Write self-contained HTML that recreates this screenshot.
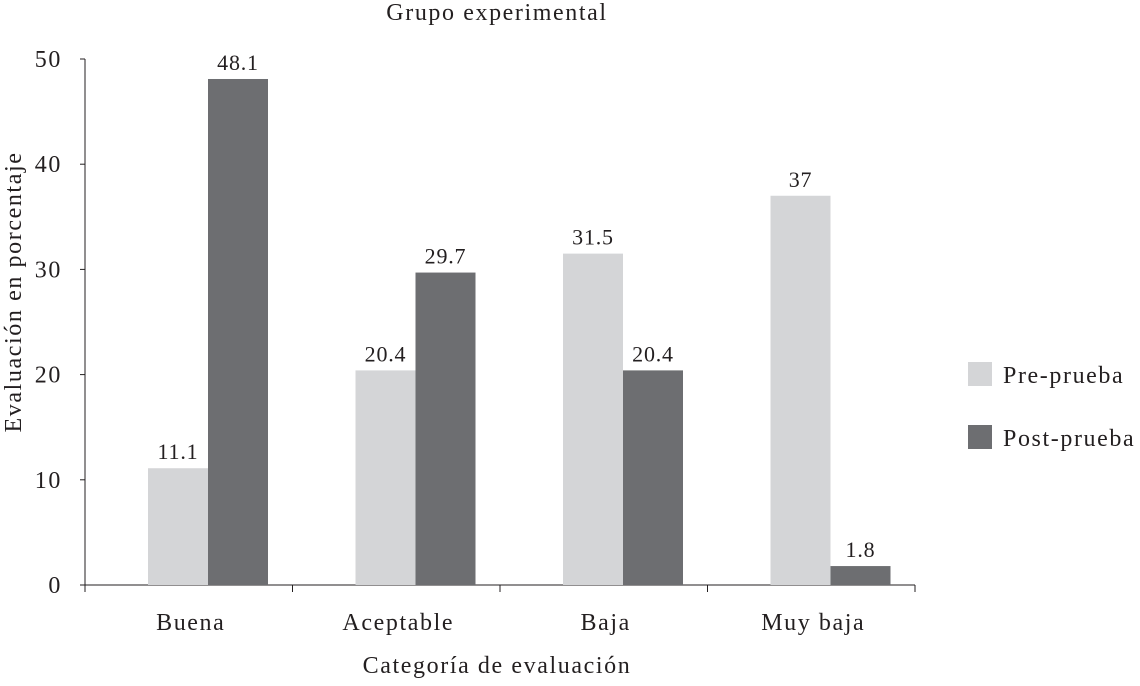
<!DOCTYPE html>
<html><head><meta charset="utf-8"><style>
body{margin:0;background:#fff}
svg text{font-family:"Liberation Serif",serif;fill:#231f20;font-size:24px;letter-spacing:1.6px}
svg text.v{font-size:22px;letter-spacing:0.8px}
</style></head><body>
<svg id="c" width="1140" height="681" xmlns="http://www.w3.org/2000/svg">
<text x="497" y="20" text-anchor="middle">Grupo experimental</text>
<text x="497" y="673" text-anchor="middle">Categoría de evaluación</text>
<text transform="translate(21,292) rotate(-90)" text-anchor="middle">Evaluación en porcentaje</text>
<g id="ax"></g><g id="bars"></g>
<rect x="968" y="362" width="24" height="24" fill="#d4d5d7"/>
<text x="1003" y="383">Pre-prueba</text>
<rect x="968" y="425" width="24" height="24" fill="#6d6e71"/>
<text x="1003" y="446">Post-prueba</text>
</svg>
<script>
const categories=["Buena","Aceptable","Baja","Muy baja"];
const prePrueba=[11.1,20.4,31.5,37];
const postPrueba=[48.1,29.7,20.4,1.8];
const yTicks=[0,10,20,30,40,50];
const NS="http://www.w3.org/2000/svg";
const x0=85,x1=915,y0=585,yTop=59,yMax=50;
const bw=(x1-x0)/categories.length;
function y(v){return y0-(v/yMax)*(y0-yTop);}
function mk(t,a,p){const e=document.createElementNS(NS,t);for(const k in a)e.setAttribute(k,a[k]);p.appendChild(e);return e;}
const ax=document.getElementById('ax'),bars=document.getElementById('bars');
const yl=mk('line',{x1:x0,y1:y(yMax),x2:x0,y2:y0,stroke:'#231f20','stroke-width':1},ax);


const xl=mk('line',{x1:x0,y1:y0,x2:x1,y2:y0,stroke:'#231f20','stroke-width':1},ax);


yTicks.forEach(v=>{
 mk('line',{x1:x0-5,y1:y(v),x2:x0,y2:y(v),stroke:'#231f20'},ax);
 const t=mk('text',{x:62,y:y(v)+8,'text-anchor':'end'},ax);t.textContent=v;
 
 
});
for(let i=0;i<=categories.length;i++)mk('line',{x1:x0+i*bw,y1:y0,x2:x0+i*bw,y2:y0+7,stroke:'#231f20'},ax);
categories.forEach((c,i)=>{
 const cs=x0+i*bw;
 const t=mk('text',{x:cs+bw/2+2,y:630,'text-anchor':'middle'},ax);t.textContent=c;
 
 
 [[prePrueba[i],'#d4d5d7',0,'pre'],[postPrueba[i],'#6d6e71',60,'post']].forEach(([v,col,off,n])=>{
  const bx=cs+63+off;
  const r=mk('rect',{x:bx,y:y(v),width:60,height:y0-y(v),fill:col},bars);
  
  
  const l=mk('text',{x:bx+30,y:y(v)-9,'text-anchor':'middle','class':'v'},bars);l.textContent=v;
  
  
 });
});
</script>
</body></html>
